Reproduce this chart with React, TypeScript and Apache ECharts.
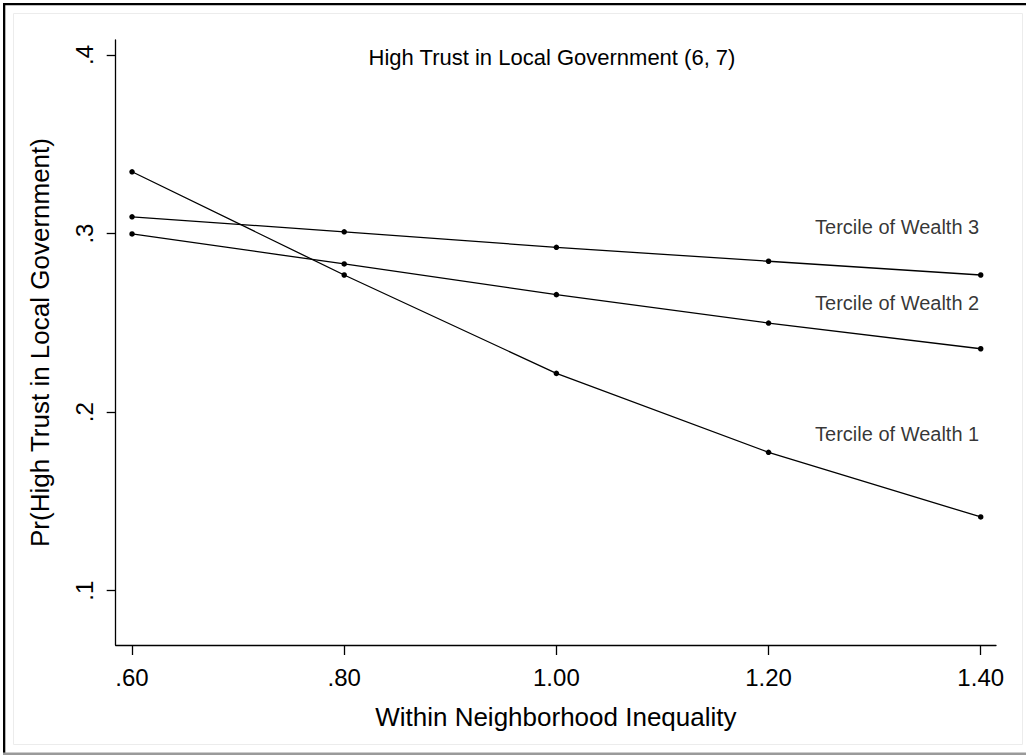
import React, { useEffect, useRef } from "react";
import * as echarts from "echarts";

const xValues = [0.6, 0.8, 1.0, 1.2, 1.4];
const xTicks = [0.6, 0.8, 1.0, 1.2, 1.4];
const yTicks = [0.1, 0.2, 0.3, 0.4];
const seriesNames = ["Tercile of Wealth 1", "Tercile of Wealth 2", "Tercile of Wealth 3"];
const wealth1 = [0.3346, 0.2768, 0.2217, 0.1775, 0.1413];
const wealth2 = [0.2998, 0.283, 0.2658, 0.2499, 0.2355];
const wealth3 = [0.3094, 0.301, 0.2923, 0.2845, 0.2768];
const labelX = [1.4, 1.4, 1.4];
const labelY = [0.188, 0.261, 0.3035];
const titleText = "High Trust in Local Government (6, 7)";
const xName = "Within Neighborhood Inequality";
const yName = "Pr(High Trust in Local Government)";

const FONT = "'Liberation Sans', Arial, Helvetica, sans-serif";

export default function App() {
  const ref = useRef<HTMLDivElement>(null);
  useEffect(() => {
    if (!ref.current) return;
    const chart = echarts.init(ref.current, undefined, { renderer: "svg" });
    const allSeries = [wealth1, wealth2, wealth3];
    const lineSeries = allSeries.map((vals, i) => ({
      name: seriesNames[i],
      type: "line",
      data: xValues.map((x, j) => [x, vals[j]]),
      symbol: "circle",
      symbolSize: 5.5,
      showSymbol: true,
      lineStyle: { color: "#000", width: 1.3 },
      itemStyle: { color: "#000" },
      z: 3,
    }));
    const annot = {
      type: "scatter",
      name: "labels",
      data: seriesNames.map((n, i) => ({ name: n, value: [labelX[i], labelY[i]] })),
      symbolSize: 1,
      itemStyle: { color: "rgba(0,0,0,0)" },
      label: {
        show: true,
        position: "left",
        distance: 1,
        formatter: (p: any) => p.name,
        color: "#000",
        fontSize: 20,
        fontFamily: FONT,
      },
      silent: true,
      z: 4,
    };
    chart.setOption({
      animation: false,
      backgroundColor: "#fff",
      title: {
        text: titleText,
        left: 547,
        top: 41,
        textAlign: "center",
        textStyle: { fontSize: 22, fontWeight: "normal", color: "#000", fontFamily: FONT },
      },
      grid: { left: 115.7, right: 30, top: 40, bottom: 110, containLabel: false },
      xAxis: {
        type: "value",
        min: 0.5846,
        max: 1.4144,
        name: xName,
        nameLocation: "middle",
        nameGap: 59,
        nameTextStyle: { fontSize: 26, color: "#000", fontFamily: FONT },
        axisLine: { show: true, lineStyle: { color: "#000", width: 1.3 } },
        axisTick: { show: true, length: 10, customValues: xTicks, lineStyle: { color: "#000", width: 1.3 } },
        axisLabel: {
          customValues: xTicks,
          margin: 20,
          fontSize: 24,
          color: "#000",
          fontFamily: FONT,
          formatter: (v: number) => v.toFixed(2).replace(/^0/, ""),
        },
        splitLine: { show: false },
      },
      yAxis: {
        type: "value",
        min: 0.0696,
        max: 0.4084,
        name: yName,
        nameLocation: "middle",
        nameGap: 63,
        nameTextStyle: { fontSize: 26, color: "#000", fontFamily: FONT },
        axisLine: { show: true, lineStyle: { color: "#000", width: 1.3 } },
        axisTick: { show: true, length: 9, customValues: yTicks, lineStyle: { color: "#000", width: 1.3 } },
        axisLabel: {
          customValues: yTicks,
          rotate: 90,
          margin: 19,
          fontSize: 24,
          color: "#000",
          fontFamily: FONT,
          formatter: (v: number) => v.toFixed(1).replace(/^0/, ""),
        },
        splitLine: { show: false },
      },
      graphic: [
        { type: "rect", shape: { x: 13.5, y: 13.5, width: 1009, height: 731 }, style: { fill: "none", stroke: "#ececec", lineWidth: 1 }, silent: true },
        { type: "rect", shape: { x: 3, y: 3, width: 1023, height: 2.3 }, style: { fill: "#000" }, silent: true },
        { type: "rect", shape: { x: 3, y: 3, width: 2.3, height: 752 }, style: { fill: "#000" }, silent: true },
        { type: "rect", shape: { x: 3, y: 752.5, width: 1023, height: 2.5 }, style: { fill: "#9a9a9a" }, silent: true },
      ],
      series: [...lineSeries, annot],
    });
    return () => chart.dispose();
  }, []);
  return (
    <div
      ref={ref}
      style={{ position: "absolute", left: 0, top: 0, width: 1026, height: 755, background: "#fff" }}
    />
  );
}
